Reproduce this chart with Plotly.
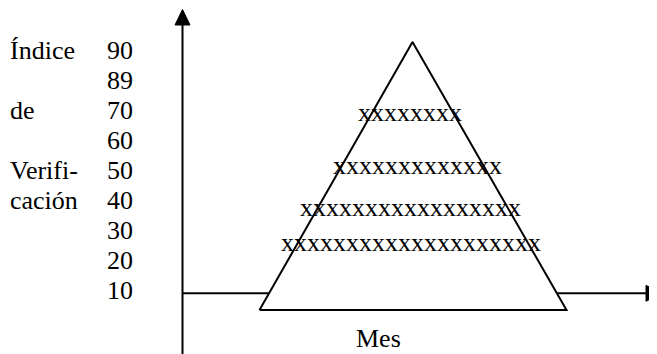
import plotly.graph_objects as go

# Labels
tick_labels = ["90", "89", "70", "60", "50", "40", "30", "20", "10"]
side_labels = ["Índice", "de", "Verifi-", "cación"]
side_rows = [0, 2, 4, 5]  # which tick row each side label sits on
x_counts = [8, 13, 17, 20]  # number of "x" in each row inside the pyramid
x_label = "Mes"

W, H = 657, 354
PAGE_OFF = 8  # the page body margin shifts the figure, compensate in the ranges
FONT = dict(family="Liberation Serif", size=26, color="black")

# diagram geometry (pixel-like units, y grows downwards)
axis_x, axis_y = 182.5, 293.3
apex = (412.5, 42)
base_y, base_l, base_r = 310, 259.5, 566.5
row_y = [112, 165, 207, 242]
row_left = [357, 332, 299, 280]
tick_top, tick_step = 50, 30

traces = []

# horizontal axis (drawn first so the pyramid hides part of it)
traces.append(go.Scatter(x=[axis_x, 647], y=[axis_y, axis_y], mode="lines",
                         line=dict(color="black", width=2), hoverinfo="skip"))
traces.append(go.Scatter(x=[646, 646, 661, 646], y=[285.3, 301.3, 293.3, 285.3],
                         mode="lines", fill="toself", fillcolor="black",
                         line=dict(color="black", width=1), hoverinfo="skip"))

# vertical axis
traces.append(go.Scatter(x=[axis_x, axis_x], y=[H + 5, 24], mode="lines",
                         line=dict(color="black", width=2), hoverinfo="skip"))
traces.append(go.Scatter(x=[175, 190, 182.5, 175], y=[25, 25, 9.5, 25],
                         mode="lines", fill="toself", fillcolor="black",
                         line=dict(color="black", width=1), hoverinfo="skip"))

# pyramid
traces.append(go.Scatter(x=[base_l, apex[0], base_r, base_l],
                         y=[base_y, apex[1], base_y, base_y],
                         mode="lines", fill="toself", fillcolor="white",
                         line=dict(color="black", width=2), hoverinfo="skip"))

fig = go.Figure(data=traces)

annotations = []
for i, t in enumerate(tick_labels):
    annotations.append(dict(x=106, y=tick_top + i * tick_step, text=t,
                            xanchor="left", yanchor="middle"))
for lab, r in zip(side_labels, side_rows):
    annotations.append(dict(x=9, y=tick_top + r * tick_step, text=lab,
                            xanchor="left", yanchor="middle"))
for n, yy, xl in zip(x_counts, row_y, row_left):
    annotations.append(dict(x=xl, y=yy, text="x" * n,
                            xanchor="left", yanchor="middle"))
annotations.append(dict(x=355, y=338, text=x_label, xanchor="left", yanchor="middle"))

for a in annotations:
    a.update(xref="x", yref="y", showarrow=False, font=FONT, borderpad=0)

fig.update_layout(
    width=W, height=H,
    margin=dict(l=0, r=0, t=0, b=0),
    paper_bgcolor="white", plot_bgcolor="white",
    showlegend=False,
    annotations=annotations,
    xaxis=dict(range=[PAGE_OFF, W + PAGE_OFF], visible=False, fixedrange=True),
    yaxis=dict(range=[H + PAGE_OFF, PAGE_OFF], visible=False, fixedrange=True),
)

fig.write_html("out.html", config={"displayModeBar": False})
